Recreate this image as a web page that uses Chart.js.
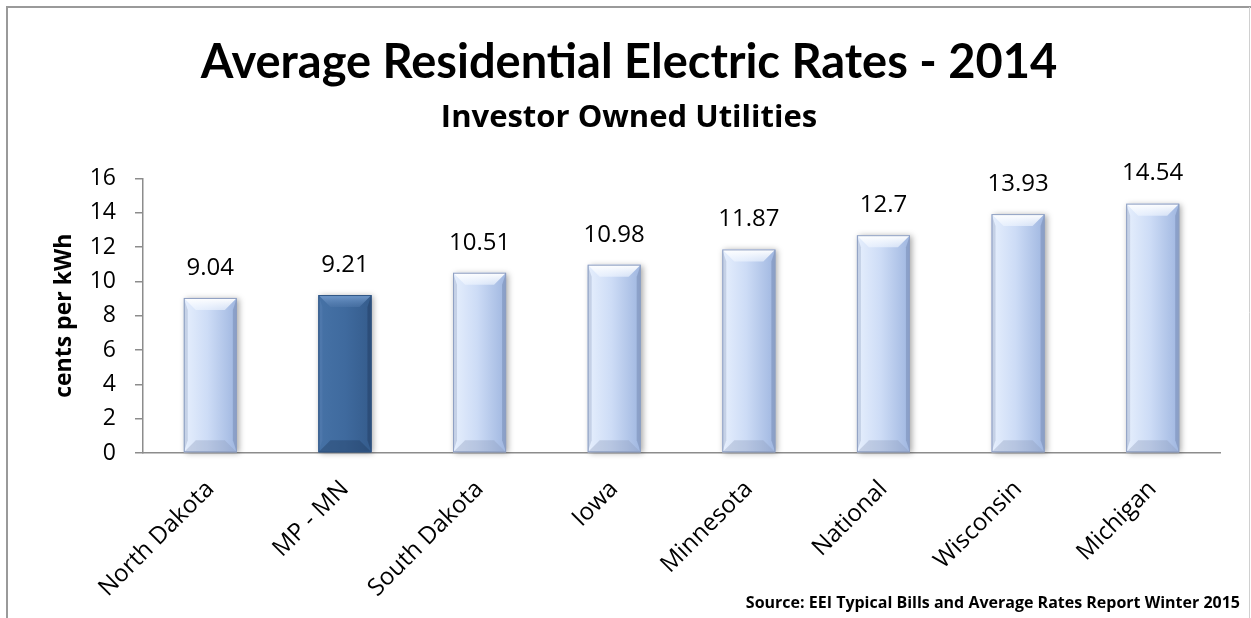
<!DOCTYPE html>
<html>
<head>
<meta charset="utf-8">
<script src="https://cdn.jsdelivr.net/npm/chart.js@4"></script>
<style>
  html, body { margin: 0; padding: 0; background: #ffffff; }
  #wrap { width: 1251px; height: 618px; position: relative; }
</style>
</head>
<body>
<div id="wrap"><canvas id="c" width="1251" height="618"></canvas></div>
<script>
const categories = ["North Dakota", "MP - MN", "South Dakota", "Iowa", "Minnesota", "National", "Wisconsin", "Michigan"];
const rates = [9.04, 9.21, 10.51, 10.98, 11.87, 12.7, 13.93, 14.54];
const highlighted = [false, true, false, false, false, false, false, false];
const yTicks = [0, 2, 4, 6, 8, 10, 12, 14, 16];
const titleText = "Average Residential Electric Rates - 2014";
const subtitleText = "Investor Owned Utilities";
const yAxisTitle = "cents per kWh";
const sourceText = "Source: EEI Typical Bills and Average Rates Report Winter 2015";

const TFONT = "Lato, 'Open Sans', sans-serif";
const FONT = "'Open Sans', Lato, sans-serif";

const bevelPlugin = {
  id: 'bevel',
  afterDatasetsDraw(chart) {
    const ctx = chart.ctx;
    const meta = chart.getDatasetMeta(0);
    meta.data.forEach((el, i) => {
      const w = el.width;
      const l = el.x - w / 2, r = el.x + w / 2, t = el.y, b = el.base;
      const bev = 12;
      const dark = highlighted[i];
      ctx.save();
      ctx.shadowColor = 'rgba(0,0,0,0.35)';
      ctx.shadowBlur = 6;
      ctx.shadowOffsetX = 2;
      ctx.shadowOffsetY = 1;
      const g = ctx.createLinearGradient(l, 0, r, 0);
      if (dark) {
        g.addColorStop(0, '#4672a6');
        g.addColorStop(0.5, '#3f6a9e');
        g.addColorStop(1, '#355c8c');
      } else {
        g.addColorStop(0, '#e6effd');
        g.addColorStop(0.45, '#cddcf6');
        g.addColorStop(1, '#9fb6e0');
      }
      ctx.fillStyle = g;
      ctx.fillRect(l, t, w, b - t);
      ctx.shadowColor = 'transparent';
      ctx.beginPath();
      ctx.moveTo(l, t); ctx.lineTo(r, t); ctx.lineTo(r - bev, t + bev); ctx.lineTo(l + bev, t + bev); ctx.closePath();
      const gt = ctx.createLinearGradient(0, t, 0, t + bev);
      if (dark) {
        gt.addColorStop(0, 'rgba(120,160,210,0.9)');
        gt.addColorStop(1, 'rgba(80,120,170,0.5)');
      } else {
        gt.addColorStop(0, 'rgba(255,255,255,1)');
        gt.addColorStop(1, 'rgba(240,246,255,0.6)');
      }
      ctx.fillStyle = gt;
      ctx.fill();
      ctx.beginPath();
      ctx.moveTo(l, b); ctx.lineTo(r, b); ctx.lineTo(r - bev, b - bev); ctx.lineTo(l + bev, b - bev); ctx.closePath();
      ctx.fillStyle = dark ? 'rgba(30,55,90,0.35)' : 'rgba(140,155,185,0.35)';
      ctx.fill();
      ctx.beginPath();
      ctx.moveTo(l, t); ctx.lineTo(l + 4, t + bev); ctx.lineTo(l + 4, b - bev); ctx.lineTo(l, b); ctx.closePath();
      ctx.fillStyle = dark ? 'rgba(90,130,180,0.4)' : 'rgba(160,175,205,0.45)';
      ctx.fill();
      ctx.beginPath();
      ctx.moveTo(r, t); ctx.lineTo(r - 4, t + bev); ctx.lineTo(r - 4, b - bev); ctx.lineTo(r, b); ctx.closePath();
      ctx.fillStyle = dark ? 'rgba(30,55,90,0.4)' : 'rgba(110,130,170,0.45)';
      ctx.fill();
      ctx.strokeStyle = dark ? '#2f5483' : '#8e9fc2';
      ctx.lineWidth = 1;
      ctx.strokeRect(l + 0.5, t + 0.5, w - 1, b - t - 1);
      ctx.fillStyle = '#000';
      ctx.font = "24px " + FONT;
      ctx.textAlign = 'center';
      ctx.textBaseline = 'middle';
      ctx.fillText(String(rates[i]), el.x, t - 30);
      ctx.restore();
    });
  }
};

const framePlugin = {
  id: 'frame',
  afterDraw(chart) {
    const ctx = chart.ctx;
    ctx.save();
    ctx.strokeStyle = '#9a9a9a';
    ctx.lineWidth = 2;
    ctx.beginPath();
    ctx.moveTo(7, 618); ctx.lineTo(7, 7); ctx.lineTo(1251, 7);
    ctx.stroke();
    ctx.strokeStyle = '#d0d0d0';
    ctx.lineWidth = 1;
    ctx.beginPath();
    ctx.moveTo(1249.5, 7); ctx.lineTo(1249.5, 618);
    ctx.stroke();
    ctx.fillStyle = '#000';
    ctx.font = "bold 16px " + FONT;
    ctx.textAlign = 'right';
    ctx.textBaseline = 'middle';
    ctx.fillText(sourceText, 1240, 603);
    ctx.restore();
  }
};

new Chart(document.getElementById('c'), {
  type: 'bar',
  data: {
    labels: categories,
    datasets: [{
      data: rates,
      backgroundColor: highlighted.map(h => h ? '#3f6a9e' : '#cddcf6'),
      borderWidth: 0,
      barPercentage: 0.394,
      categoryPercentage: 1.0
    }]
  },
  options: {
    responsive: false,
    animation: false,
    events: [],
    layout: { padding: { top: 10, left: 38, right: 31, bottom: 0 } },
    plugins: {
      legend: { display: false },
      tooltip: { enabled: false },
      title: {
        display: true,
        text: titleText,
        color: '#000',
        font: { family: TFONT, size: 47, weight: 'bold' },
        padding: { top: 25, bottom: 0 }
      },
      subtitle: {
        display: true,
        text: subtitleText,
        color: '#000',
        font: { family: FONT, size: 31, weight: 'bold' },
        padding: { top: 8, bottom: 42 }
      }
    },
    scales: {
      x: {
        grid: { display: false },
        border: { display: true, color: '#8c8c8c', width: 1.5 },
        ticks: {
          color: '#000',
          font: { family: FONT, size: 24 },
          maxRotation: 45, minRotation: 45,
          padding: 14
        },
        afterFit(scale) { scale.height = 165; }
      },
      y: {
        min: 0, max: 16,
        afterBuildTicks(scale) { scale.ticks = yTicks.map(v => ({ value: v })); },
        grid: { display: true, drawOnChartArea: false, drawTicks: true, tickLength: 8, color: '#8c8c8c', lineWidth: 1.5 },
        border: { display: true, color: '#8c8c8c', width: 1.5 },
        ticks: { color: '#000', font: { family: FONT, size: 23 }, padding: 19 },
        title: {
          display: true,
          text: yAxisTitle,
          color: '#000',
          font: { family: FONT, size: 23, weight: 'bold' },
          padding: { top: 13, bottom: 0 }
        },
        afterFit(scale) { scale.width = 105; }
      }
    }
  },
  plugins: [bevelPlugin, framePlugin]
});
</script>
</body>
</html>
